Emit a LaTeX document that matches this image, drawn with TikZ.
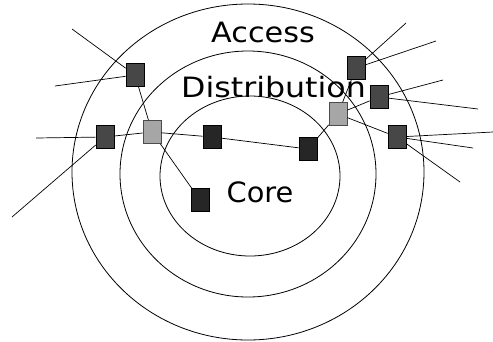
\documentclass[tikz,border=0pt]{standalone}
\usepackage{fontspec}
\setmainfont{DejaVu Sans}
\begin{document}
\begin{tikzpicture}[x=1pt,y=-1pt,
  ring/.style={draw=black,line width=0.8pt},
  link/.style={draw=black,line width=0.7pt},
  sw/.style={draw=black,line width=0.6pt,minimum width=18pt,minimum height=23pt,inner sep=0pt},
  accesssw/.style={sw,fill=black!72},
  coresw/.style={sw,fill=black!85},
  distsw/.style={sw,fill=black!35,draw=black!70},
  lbl/.style={font=\fontsize{28}{30}\selectfont,inner sep=0pt,anchor=base,transform shape}]
\useasboundingbox (0,0) rectangle (493,341);
\fill[white] (0,0) rectangle (493,341);

% three tiers
\draw[ring] (248,172) ellipse [x radius=176, y radius=168];
\draw[ring] (248,174) ellipse [x radius=128, y radius=123];
\draw[ring] (250,176) ellipse [x radius=90, y radius=80];

% tier labels
\begin{scope}[shift={(263,42)},xscale=1.08]
\node[lbl] (tAccess) at (0,0) {Access};
\end{scope}
\begin{scope}[shift={(273.5,97)},xscale=1.13]
\node[lbl] (tDist) at (0,0) {Distribution};
\end{scope}
\begin{scope}[shift={(260,202)},xscale=1.03]
\node[lbl] (tCore) at (0,0) {Core};
\end{scope}

% links between switches
\coordinate (u1) at (72,29);
\coordinate (u2) at (55,86);
\coordinate (u3) at (36,138);
\coordinate (u4) at (12,217);
\coordinate (u5) at (406,23);
\coordinate (u6) at (436,41);
\coordinate (u7) at (443,80);
\coordinate (u8) at (478,109);
\coordinate (u9) at (493,132);
\coordinate (u10) at (473,148);
\coordinate (u11) at (460,182);

% switches
\node[accesssw] (a1) at (135,75) {};
\node[accesssw] (a2) at (105,137) {};
\node[accesssw] (a3) at (356,68) {};
\node[accesssw] (a4) at (379,97) {};
\node[accesssw] (a5) at (397,137) {};
\node[distsw] (d1) at (152,132) {};
\node[distsw] (d2) at (338,114) {};
\node[coresw] (c1) at (212,137) {};
\node[coresw] (c2) at (200,200) {};
\node[coresw] (c3) at (308,149) {};

\draw[link] (d1) -- (c1);
\draw[link] (d1) -- (c2);
\draw[link] (d1) -- (a1);
\draw[link] (d1) -- (a2);
\draw[link] (c1) -- (c3);
\draw[link] (c3) -- (d2);
\draw[link] (d2) -- (a3);
\draw[link] (d2) -- (a4);
\draw[link] (d2) -- (a5);
\draw[link] (u1) -- (a1);
\draw[link] (u2) -- (a1);
\draw[link] (u3) -- (a2);
\draw[link] (u4) -- (a2);
\draw[link] (u5) -- (a3);
\draw[link] (u6) -- (a3);
\draw[link] (u7) -- (a4);
\draw[link] (u8) -- (a4);
\draw[link] (u9) -- (a5);
\draw[link] (u10) -- (a5);
\draw[link] (u11) -- (a5);
\end{tikzpicture}
\end{document}
